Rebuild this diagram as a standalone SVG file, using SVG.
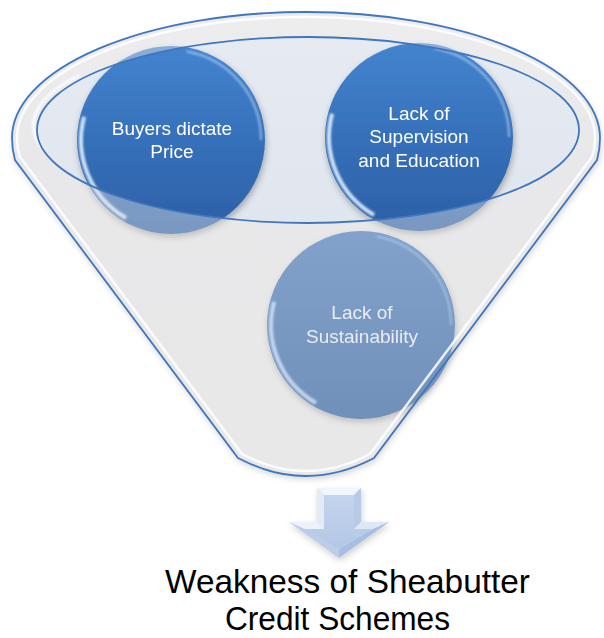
<svg xmlns="http://www.w3.org/2000/svg" xmlns:xlink="http://www.w3.org/1999/xlink" width="604" height="638" viewBox="0 0 604 638">
  <defs>
    <style>
      .node-text { font-family: "Liberation Sans", Arial, sans-serif; font-size: 19px; fill: #ffffff; text-anchor: middle; }
      .pale-text { fill: #e9edf3; }
      .title { font-family: "Liberation Sans", Arial, sans-serif; font-size: 34px; fill: #000000; text-anchor: middle; }
      .edge { fill: none; stroke: #3f76bd; stroke-width: 1.8; }
      .lip { fill: none; stroke: #ffffff; stroke-width: 2.5; stroke-opacity: 0.85; }
    </style>
    <linearGradient id="bodyGrad" gradientUnits="userSpaceOnUse" x1="0" y1="12" x2="0" y2="494">
      <stop offset="0" stop-color="#f2f2f3"/>
      <stop offset="0.3" stop-color="#e9e9ea"/>
      <stop offset="1" stop-color="#e8e8e8"/>
    </linearGradient>
    <linearGradient id="bowlGrad" x1="0" y1="0" x2="0" y2="1">
      <stop offset="0" stop-color="#e6ebf2"/>
      <stop offset="1" stop-color="#e0e6ee"/>
    </linearGradient>
    <linearGradient id="ballBlue" x1="0" y1="0" x2="0" y2="1">
      <stop offset="0" stop-color="#4484cf"/>
      <stop offset="0.5" stop-color="#3670ba"/>
      <stop offset="1" stop-color="#2c5fa5"/>
    </linearGradient>
    <linearGradient id="ballPale" x1="0" y1="0" x2="0" y2="1">
      <stop offset="0" stop-color="#82a2cb"/>
      <stop offset="1" stop-color="#7090ba"/>
    </linearGradient>
    <linearGradient id="arrowFace" x1="0" y1="0" x2="0" y2="1">
      <stop offset="0" stop-color="#c4d4ec"/>
      <stop offset="1" stop-color="#b3c7e6"/>
    </linearGradient>
    <filter id="shadow" x="-20%" y="-20%" width="140%" height="140%">
      <feDropShadow dx="1" dy="3" stdDeviation="3" flood-color="#000000" flood-opacity="0.3"/>
    </filter>
    <filter id="softShadow" x="-20%" y="-20%" width="140%" height="140%">
      <feDropShadow dx="1" dy="3" stdDeviation="3" flood-color="#000000" flood-opacity="0.18"/>
    </filter>
    <filter id="soft" x="-20%" y="-20%" width="140%" height="140%">
      <feGaussianBlur stdDeviation="0.8"/>
    </filter>
    <!-- glossy sphere edge light, drawn around the origin for radius 94 -->
    <g id="gloss">
      <path d="M-86.9,-23.3 A90,90 0 0 0 -45,77.9" fill="none" stroke="#e2f1ff" stroke-width="4" stroke-opacity="0.9" filter="url(#soft)"/>
      <path d="M15.6,-88.6 A90,90 0 0 1 90,0" fill="none" stroke="#cfe4fb" stroke-width="2" stroke-opacity="0.6" filter="url(#soft)"/>
    </g>
    <path id="funnelShape" d="M12,138 A294,126 0 0 1 600,138 C600,146 599,153 597,160 L374,458 Q306,494 238,458 L15,160 C13,153 12,146 12,138 Z"/>
  </defs>

  <!-- funnel body -->
  <g id="funnel">
    <use xlink:href="#funnelShape" fill="url(#bodyGrad)" filter="url(#softShadow)"/>
    <ellipse cx="308" cy="130" rx="271" ry="93" fill="url(#bowlGrad)"/>
  </g>

  <!-- items sitting in the bowl -->
  <g id="node-buyers" filter="url(#shadow)">
    <circle cx="171" cy="140" r="94" fill="url(#ballBlue)"/>
    <use xlink:href="#gloss" x="171" y="140"/>
  </g>
  <g id="node-supervision" filter="url(#shadow)">
    <circle cx="419" cy="137" r="94" fill="url(#ballBlue)"/>
    <use xlink:href="#gloss" x="419" y="137"/>
  </g>

  <!-- translucent front of the funnel, outside the bowl opening -->
  <path id="funnel-front" d="M12,138 A294,126 0 0 1 600,138 C600,146 599,153 597,160 L374,458 Q306,494 238,458 L15,160 C13,153 12,146 12,138 Z M37,130 A271,93 0 0 0 579,130 A271,93 0 0 0 37,130 Z" fill="#e8e8e9" fill-opacity="0.42" fill-rule="evenodd"/>

  <!-- item seen through the funnel wall -->
  <g id="node-sustainability">
    <circle cx="361" cy="325" r="94" fill="url(#ballPale)" filter="url(#softShadow)"/>
    <use xlink:href="#gloss" x="361" y="325" opacity="0.8"/>
    <text class="node-text pale-text" x="362" y="319">Lack of</text>
    <text class="node-text pale-text" x="362" y="343">Sustainability</text>
  </g>

  <!-- labels of the upper items -->
  <g id="labels">
    <text class="node-text" x="172" y="135">Buyers dictate</text>
    <text class="node-text" x="172" y="158">Price</text>
    <text class="node-text" x="419" y="120">Lack of</text>
    <text class="node-text" x="419" y="143">Supervision</text>
    <text class="node-text" x="419" y="167">and Education</text>
  </g>

  <!-- funnel outlines and glass highlights -->
  <g id="funnel-lines">
    <path class="lip" d="M17,138 A289,121 0 0 1 595,138 C595,145 594,151 592,157 L370,454 Q306,488 242,454 L20,157 C18,151 17,145 17,138"/>
    <path d="M44,150 A267,89 0 0 1 80,75" fill="none" stroke="#ffffff" stroke-width="3" stroke-opacity="0.8" filter="url(#soft)"/>
    <ellipse class="edge" cx="308" cy="130" rx="271" ry="93"/>
    <use xlink:href="#funnelShape" class="edge"/>
  </g>

  <!-- bevelled down arrow -->
  <g id="arrow" filter="url(#softShadow)">
    <polygon points="317,488 361,488 361,522 389,522 339,558 289,522 317,522" fill="#c9d7ee"/>
    <polygon points="317,488 361,488 354,495 324,495" fill="#f1f5fc"/>
    <polygon points="317,488 324,495 324,529 317,522" fill="#e3ebf7"/>
    <polygon points="361,488 361,522 354,529 354,495" fill="#b7cae8"/>
    <polygon points="361,522 389,522 373,529 354,529" fill="#dde7f5"/>
    <polygon points="389,522 339,558 339,549 373,529" fill="#a9bfe2"/>
    <polygon points="339,558 289,522 305,529 339,549" fill="#bccde9"/>
    <polygon points="289,522 317,522 324,529 305,529" fill="#edf2fa"/>
    <polygon points="324,495 354,495 354,529 373,529 339,549 305,529 324,529" fill="url(#arrowFace)"/>
  </g>

  <!-- caption -->
  <g id="caption">
    <text class="title" x="347.5" y="593" textLength="365" lengthAdjust="spacingAndGlyphs">Weakness of Sheabutter</text>
    <text class="title" x="337.5" y="630" textLength="225" lengthAdjust="spacingAndGlyphs">Credit Schemes</text>
  </g>
</svg>
